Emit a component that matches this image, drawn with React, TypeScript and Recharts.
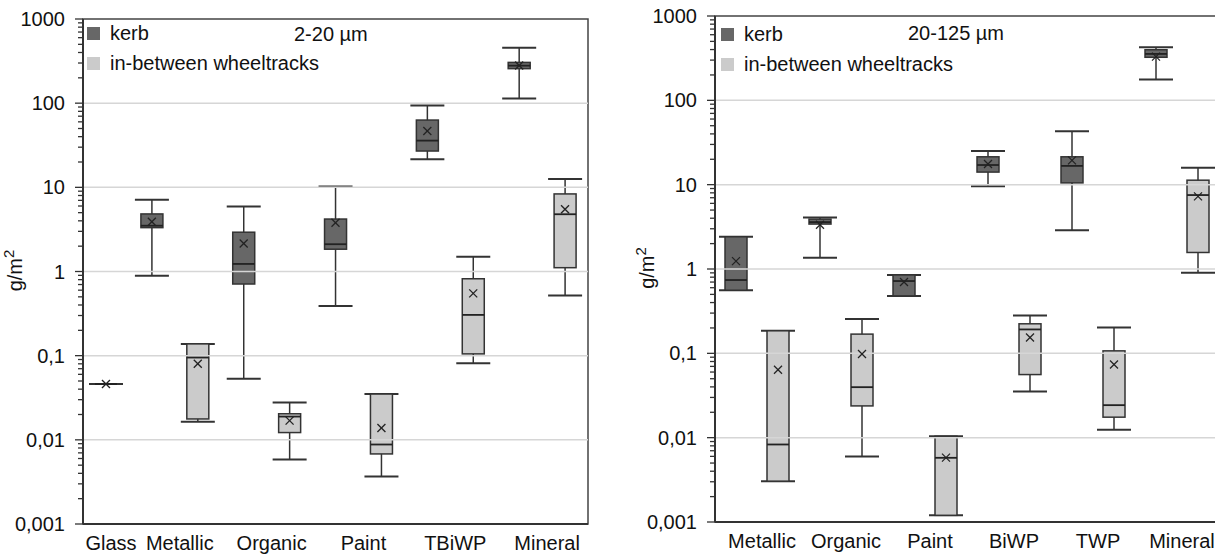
import React from 'react';
import { ComposedChart, Bar, Line, XAxis, YAxis, ReferenceLine, ReferenceArea, Legend } from 'recharts';

const FONT = '"Liberation Sans", Arial, Helvetica, sans-serif';
const KERB_COLOR = '#676767';
const BETWEEN_COLOR = '#cbcbcb';
const EDGE = '#333333';
const BOX_W = 22;
const CAP_W = 34;

const legendItems = [
  { name: 'kerb', color: KERB_COLOR },
  { name: 'in-between wheeltracks', color: BETWEEN_COLOR },
];

const decadeTicks = [0.001, 0.01, 0.1, 1, 10, 100, 1000];
const minorMultipliers = [2, 3, 4, 5, 6, 7, 8, 9];
const gridDecades = [0.01, 0.1, 1, 10, 100];

// ---- 2-20 µm ----
const fineTitle = '2-20 µm';
const fineSlotCategory = ['Glass', 'Metallic', 'Metallic', 'Organic', 'Organic', 'Paint', 'Paint', 'TBiWP', 'TBiWP', 'Mineral', 'Mineral'];
const fineSlotGroup = ['between', 'kerb', 'between', 'kerb', 'between', 'kerb', 'between', 'kerb', 'between', 'kerb', 'between'];
const fineMin = [0.046, 0.89, 0.0164, 0.053, 0.00584, 0.39, 0.00367, 21.6, 0.081, 114, 0.52];
const fineQ1 = [0.046, 3.32, 0.0177, 0.71, 0.0122, 1.84, 0.0068, 27, 0.105, 257, 1.11];
const fineMedian = [0.046, 3.5, 0.095, 1.23, 0.0189, 2.11, 0.0088, 35.9, 0.305, 279, 4.79];
const fineQ3 = [0.046, 4.83, 0.138, 2.93, 0.0204, 4.2, 0.035, 63, 0.82, 305, 8.35];
const fineMax = [0.046, 7.1, 0.138, 5.9, 0.0277, 10.2, 0.035, 93.5, 1.5, 456, 12.6];
const fineMean = [0.046, 3.9, 0.08, 2.15, 0.0169, 3.8, 0.0138, 46.8, 0.55, 280, 5.5];

// ---- 20-125 µm ----
const coarseTitle = '20-125 µm';
const coarseSlotCategory = ['Metallic', 'Metallic', 'Organic', 'Organic', 'Paint', 'Paint', 'BiWP', 'BiWP', 'TWP', 'TWP', 'Mineral', 'Mineral'];
const coarseSlotGroup = ['kerb', 'between', 'kerb', 'between', 'kerb', 'between', 'kerb', 'between', 'kerb', 'between', 'kerb', 'between'];
const coarseMin = [0.56, 0.00305, 1.36, 0.006, 0.48, 0.0012, 9.6, 0.0353, 2.89, 0.0124, 177, 0.9];
const coarseQ1 = [0.56, 0.00305, 3.41, 0.0238, 0.48, 0.0012, 14.1, 0.056, 10.5, 0.0175, 324, 1.57];
const coarseMedian = [0.74, 0.0083, 3.6, 0.0397, 0.72, 0.00577, 17.1, 0.192, 16.7, 0.0243, 355, 7.53];
const coarseQ3 = [2.41, 0.185, 3.9, 0.169, 0.85, 0.0104, 21.4, 0.224, 21.4, 0.107, 398, 11.3];
const coarseMax = [2.41, 0.185, 4.09, 0.255, 0.85, 0.0104, 25, 0.281, 43, 0.203, 425, 15.9];
const coarseMean = [1.24, 0.064, 3.35, 0.098, 0.7, 0.0058, 17.6, 0.154, 19.4, 0.0738, 330, 7.27];

type Row = {
  x: number;
  cat: string;
  group: string;
  whisker: [number, number];
  box: [number, number];
  median: number;
  mean: number;
};

function buildRows(cats: string[], groups: string[], mins: number[], q1s: number[], meds: number[], q3s: number[], maxs: number[], means: number[]): Row[] {
  return cats.map((c, i) => ({
    x: i + 0.5,
    cat: c,
    group: groups[i],
    whisker: [mins[i], maxs[i]],
    box: [q1s[i], q3s[i]],
    median: meds[i],
    mean: means[i],
  }));
}

function categoryCenters(rows: Row[]) {
  const names: string[] = [];
  rows.forEach((r) => {
    if (!names.includes(r.cat)) names.push(r.cat);
  });
  return names.map((n) => {
    const xs = rows.filter((r) => r.cat === n).map((r) => r.x);
    return { name: n, x: xs.reduce((a, b) => a + b, 0) / xs.length };
  });
}

const allYTicks: number[] = [];
decadeTicks.forEach((d, i) => {
  allYTicks.push(d);
  if (i < decadeTicks.length - 1) minorMultipliers.forEach((m) => allYTicks.push(m * d));
});

const isDecade = (v: number) => decadeTicks.some((d) => Math.abs(Math.log10(d) - Math.log10(v)) < 1e-6);

const YTick = (props: any) => {
  const { x, y, payload } = props;
  const v = payload.value;
  const major = isDecade(v);
  return (
    <g>
      <line x1={x - (major ? 8 : 5)} x2={x} y1={y} y2={y} stroke={EDGE} strokeWidth={1.3} />
      {major && (
        <text x={x - 18} y={y} dy={7} textAnchor="end" fontSize={20} fontFamily={FONT} fill="#111">
          {String(v).replace('.', ',')}
        </text>
      )}
    </g>
  );
};

const makeXTick = (centers: { name: string; x: number }[], dy: number) => (props: any) => {
  const { x, y, payload } = props;
  const c = centers.find((cc) => Math.abs(cc.x - payload.value) < 1e-6);
  return (
    <text x={x + 5} y={y + dy} textAnchor="middle" fontSize={20} fontFamily={FONT} fill="#111">
      {c ? c.name : ''}
    </text>
  );
};

const WhiskerShape = (props: any) => {
  const { x, y, width, height } = props;
  if (x == null || y == null) return <g />;
  const cx = x + width / 2;
  const y2 = y + (height || 0);
  return (
    <g>
      <line x1={cx} x2={cx} y1={y} y2={y2} stroke={EDGE} strokeWidth={1.5} />
      <line x1={x} x2={x + width} y1={y} y2={y} stroke={EDGE} strokeWidth={2} />
      <line x1={x} x2={x + width} y1={y2} y2={y2} stroke={EDGE} strokeWidth={2} />
    </g>
  );
};

const BoxShape = (props: any) => {
  const { x, y, width, height, payload } = props;
  if (x == null || y == null) return <g />;
  const fill = payload && payload.group === 'kerb' ? KERB_COLOR : BETWEEN_COLOR;
  return <rect x={x} y={y} width={width} height={Math.max(height || 0, 0)} fill={fill} stroke={EDGE} strokeWidth={1.5} />;
};

const MedianDot = (props: any) => {
  const { cx, cy, index } = props;
  if (cx == null || cy == null) return <g key={`md-${index}`} />;
  return <line key={`md-${index}`} x1={cx - BOX_W / 2} x2={cx + BOX_W / 2} y1={cy} y2={cy} stroke="#222" strokeWidth={1.8} />;
};

const MeanDot = (props: any) => {
  const { cx, cy, index } = props;
  if (cx == null || cy == null) return <g key={`mn-${index}`} />;
  const s = 4;
  return (
    <g key={`mn-${index}`}>
      <line x1={cx - s} x2={cx + s} y1={cy - s} y2={cy + s} stroke="#222" strokeWidth={1.3} />
      <line x1={cx - s} x2={cx + s} y1={cy + s} y2={cy - s} stroke="#222" strokeWidth={1.3} />
    </g>
  );
};

const LegendContent = () => (
  <div style={{ fontFamily: FONT, fontSize: 20, color: '#111' }}>
    {legendItems.map((it) => (
      <div key={it.name} style={{ display: 'flex', alignItems: 'center', height: 30, whiteSpace: 'nowrap' }}>
        <span style={{ display: 'inline-block', width: 13, height: 13, background: it.color, marginRight: 10 }} />
        <span>{it.name}</span>
      </div>
    ))}
  </div>
);

type PanelProps = {
  rows: Row[];
  width: number;
  height: number;
  margin: { top: number; right: number; bottom: number; left: number };
  yWidth: number;
  xHeight: number;
  xLabelDy: number;
  yLabelX: number;
  legendPos: { top: number; left: number };
  title: string;
  titlePos: { top: number; left: number };
};

function Panel(p: PanelProps) {
  const n = p.rows.length;
  const centers = categoryCenters(p.rows);
  const yLabel = (lp: any) => {
    const vb = lp.viewBox || { x: 0, y: 0, width: 0, height: 0 };
    const cx = vb.x + p.yLabelX;
    const cy = vb.y + vb.height / 2 - 1;
    return (
      <text x={cx} y={cy} transform={`rotate(-90, ${cx}, ${cy})`} textAnchor="middle" fontSize={20} fontFamily={FONT} fill="#111">
        g/m<tspan dy={-8} fontSize={15}>2</tspan>
      </text>
    );
  };
  return (
    <div style={{ position: 'relative', width: p.width, height: p.height }}>
      <ComposedChart width={p.width} height={p.height} data={p.rows} margin={p.margin} style={{ fontFamily: FONT }}>
        <XAxis
          xAxisId="a"
          type="number"
          dataKey="x"
          domain={[0, n]}
          allowDataOverflow
          ticks={centers.map((c) => c.x)}
          interval={0}
          tick={makeXTick(centers, p.xLabelDy)}
          tickLine={false}
          tickSize={0}
          tickMargin={0}
          height={p.xHeight}
          axisLine={{ stroke: EDGE, strokeWidth: 2 }}
        />
        <XAxis xAxisId="b" type="number" dataKey="x" domain={[0, n]} allowDataOverflow hide />
        <YAxis
          type="number"
          scale="log"
          domain={[0.001, 1000]}
          allowDataOverflow
          ticks={allYTicks}
          interval={0}
          tick={YTick}
          tickLine={false}
          tickSize={0}
          tickMargin={0}
          width={p.yWidth}
          axisLine={{ stroke: EDGE, strokeWidth: 2 }}
          label={{ content: yLabel }}
        />
        {gridDecades.map((d) => (
          <ReferenceLine key={d} xAxisId="a" y={d} stroke="#d6d6d6" strokeWidth={1.5} />
        ))}
        <ReferenceArea xAxisId="a" y1={0.001} y2={1000} fill="none" fillOpacity={0} stroke="#444" strokeWidth={1.5} />
        <Bar xAxisId="a" dataKey="whisker" barSize={CAP_W} shape={WhiskerShape} isAnimationActive={false} legendType="none" />
        <Bar xAxisId="b" dataKey="box" barSize={BOX_W} shape={BoxShape} isAnimationActive={false} legendType="none" />
        <Line xAxisId="a" dataKey="median" stroke="none" dot={MedianDot} activeDot={false} isAnimationActive={false} legendType="none" />
        <Line xAxisId="a" dataKey="mean" stroke="none" dot={MeanDot} activeDot={false} isAnimationActive={false} legendType="none" />
        <Legend
          layout="horizontal"
          align="center"
          verticalAlign="middle"
          content={LegendContent}
          wrapperStyle={{ top: p.legendPos.top, left: p.legendPos.left, width: 'auto', height: 'auto' }}
        />
      </ComposedChart>
      <div
        style={{
          position: 'absolute',
          top: p.titlePos.top,
          left: p.titlePos.left,
          fontFamily: FONT,
          fontSize: 20,
          lineHeight: '20px',
          color: '#111',
          whiteSpace: 'nowrap',
        }}
      >
        {p.title}
      </div>
    </div>
  );
}

const fineRows = buildRows(fineSlotCategory, fineSlotGroup, fineMin, fineQ1, fineMedian, fineQ3, fineMax, fineMean);
const coarseRows = buildRows(coarseSlotCategory, coarseSlotGroup, coarseMin, coarseQ1, coarseMedian, coarseQ3, coarseMax, coarseMean);

export default function App() {
  return (
    <div style={{ position: 'fixed', left: 0, top: 0, width: 1215, height: 555, overflow: 'hidden', background: '#fff' }}>
      <div style={{ position: 'absolute', left: 0, top: 0 }}>
        <Panel
          rows={fineRows}
          width={600}
          height={555}
          margin={{ top: 19, right: 12, bottom: 0, left: 0 }}
          yWidth={83}
          xHeight={31}
          xLabelDy={26}
          yLabelX={22}
          legendPos={{ top: 18, left: 87 }}
          title={fineTitle}
          titlePos={{ top: 24, left: 294 }}
        />
      </div>
      <div style={{ position: 'absolute', left: 610, top: 0 }}>
        <Panel
          rows={coarseRows}
          width={610}
          height={555}
          margin={{ top: 16, right: 1, bottom: 0, left: 0 }}
          yWidth={105}
          xHeight={33}
          xLabelDy={26}
          yLabelX={44}
          legendPos={{ top: 19, left: 111 }}
          title={coarseTitle}
          titlePos={{ top: 23, left: 298 }}
        />
      </div>
    </div>
  );
}
